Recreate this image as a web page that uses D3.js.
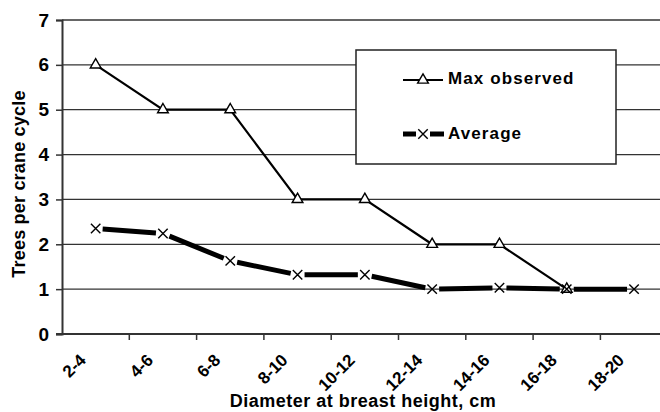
<!DOCTYPE html>
<html>
<head>
<meta charset="utf-8">
<script src="https://cdn.jsdelivr.net/npm/d3@7"></script>
<style>
  body { margin: 0; background: #fff; }
  svg { display: block; font-family: "Liberation Sans", Arial, sans-serif; font-weight: bold; }
</style>
</head>
<body>
<svg id="chart" width="660" height="412"></svg>
<script>
// Data
const categories = ["2-4", "4-6", "6-8", "8-10", "10-12", "12-14", "14-16", "16-18", "18-20"]
const maxObserved = [6, 5, 5, 3, 3, 2, 2, 1]
const average = [2.35, 2.24, 1.63, 1.32, 1.32, 1.0, 1.03, 1.0, 1.0]
const yTicks = [0, 1, 2, 3, 4, 5, 6, 7]

// Layout
const svg = d3.select("#chart")
const x = d3.scaleBand().domain(categories).range([62, 62 + 9 * 67.3])
const y = d3.scaleLinear().domain([0, 7]).range([334, 20])
const cx = (c) => x(c) + x.bandwidth() / 2

// Grid lines
svg.append("g")
  .selectAll("line")
  .data(yTicks.filter(d => d > 0))
  .join("line")
  .attr("x1", 62).attr("x2", 660)
  .attr("y1", d => y(d)).attr("y2", d => y(d))
  .attr("stroke", "#333").attr("stroke-width", 1.3)

// Y axis
const yAxis = svg.append("g")
  .attr("transform", "translate(62,0)")
  .call(d3.axisLeft(y).tickValues(yTicks).tickFormat(d3.format("d")).tickSize(6).tickPadding(7))
  .attr("font-family", null).attr("font-size", 19)
yAxis.select(".domain").attr("stroke", "#333").attr("stroke-width", 2)
yAxis.selectAll(".tick line").attr("stroke", "#333").attr("stroke-width", 1.5)
yAxis.selectAll("text").attr("fill", "#000")

// X axis
const xAxis = svg.append("g")
  .attr("transform", "translate(0,334)")
  .call(d3.axisBottom(x).tickSize(0).tickSizeOuter(0))
  .attr("font-family", null).attr("font-size", 17)
xAxis.select(".domain").attr("stroke", "#333").attr("stroke-width", 2).attr("d", "M56,0H660")
xAxis.selectAll(".tick text")
  .attr("fill", "#000")
  .attr("text-anchor", "end")
  .attr("y", 0).attr("dy", "0.35em")
  .attr("transform", "translate(-13,23) rotate(-45)")
xAxis.append("g")
  .selectAll("line")
  .data(categories.slice(1))
  .join("line")
  .attr("x1", d => x(d)).attr("x2", d => x(d))
  .attr("y1", 0).attr("y2", 6)
  .attr("stroke", "#333").attr("stroke-width", 1.5)

// Axis titles
svg.append("text")
  .attr("x", 363).attr("y", 407)
  .attr("text-anchor", "middle")
  .attr("font-size", 18).attr("letter-spacing", 0.5)
  .text("Diameter at breast height, cm")
svg.append("text")
  .attr("transform", "translate(25,184) rotate(-90)")
  .attr("text-anchor", "middle")
  .attr("font-size", 18).attr("letter-spacing", 0.2)
  .text("Trees per crane cycle")

// Series: max observed
const maxPts = maxObserved.map((v, i) => [cx(categories[i]), y(v)])
svg.append("path")
  .attr("d", d3.line()(maxPts))
  .attr("fill", "none").attr("stroke", "#000").attr("stroke-width", 2.2)
const tri = d3.symbol(d3.symbolTriangle, 50)
svg.append("g")
  .selectAll("path")
  .data(maxPts)
  .join("path")
  .attr("transform", d => `translate(${d[0]},${d[1]})`)
  .attr("d", tri)
  .attr("fill", "#fff").attr("stroke", "#000").attr("stroke-width", 1.4)

// Series: average (thick segments that stop short of the markers)
const avgPts = average.map((v, i) => [cx(categories[i]), y(v)])
const gap = 7
svg.append("g")
  .selectAll("line")
  .data(d3.pairs(avgPts))
  .join("line")
  .each(function ([a, b]) {
    const dx = b[0] - a[0], dy = b[1] - a[1]
    const len = Math.hypot(dx, dy)
    const ux = dx / len, uy = dy / len
    d3.select(this)
      .attr("x1", a[0] + ux * gap).attr("y1", a[1] + uy * gap)
      .attr("x2", b[0] - ux * gap).attr("y2", b[1] - uy * gap)
  })
  .attr("stroke", "#000").attr("stroke-width", 5)
const cross = d3.symbol(d3.symbolX, 60)
svg.append("g")
  .selectAll("path")
  .data(avgPts)
  .join("path")
  .attr("transform", d => `translate(${d[0]},${d[1]})`)
  .attr("d", cross)
  .attr("fill", "none").attr("stroke", "#000").attr("stroke-width", 1.4)

// Legend
const legend = svg.append("g")
legend.append("rect")
  .attr("x", 356).attr("y", 50).attr("width", 260).attr("height", 114)
  .attr("fill", "#fff").attr("stroke", "#222").attr("stroke-width", 1.5)
legend.append("line")
  .attr("x1", 403).attr("x2", 443).attr("y1", 80).attr("y2", 80)
  .attr("stroke", "#000").attr("stroke-width", 2.2)
legend.append("path")
  .attr("transform", "translate(423,80)")
  .attr("d", tri)
  .attr("fill", "#fff").attr("stroke", "#000").attr("stroke-width", 1.4)
legend.append("line")
  .attr("x1", 403).attr("x2", 416).attr("y1", 134).attr("y2", 134)
  .attr("stroke", "#000").attr("stroke-width", 5)
legend.append("line")
  .attr("x1", 430).attr("x2", 444).attr("y1", 134).attr("y2", 134)
  .attr("stroke", "#000").attr("stroke-width", 5)
legend.append("path")
  .attr("transform", "translate(423,134)")
  .attr("d", cross)
  .attr("fill", "none").attr("stroke", "#000").attr("stroke-width", 1.4)
legend.append("text")
  .attr("x", 448).attr("y", 84)
  .attr("font-size", 17).attr("letter-spacing", 1.1)
  .text("Max observed")
legend.append("text")
  .attr("x", 448).attr("y", 139)
  .attr("font-size", 17).attr("letter-spacing", 1.1)
  .text("Average")
</script>
</body>
</html>
